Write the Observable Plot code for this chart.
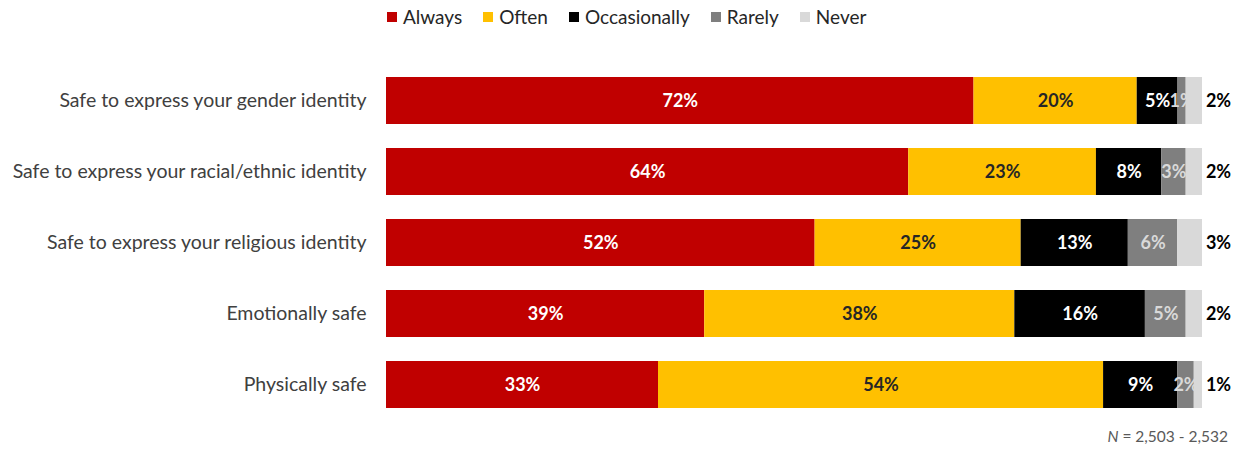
<!DOCTYPE html>
<html>
<head>
<meta charset="utf-8">
<script src="https://cdn.jsdelivr.net/npm/d3@7"></script>
<script src="https://cdn.jsdelivr.net/npm/@observablehq/plot@0.6"></script>
<style>
  html, body { margin: 0; padding: 0; background: #fff; }
  body { width: 1242px; height: 452px; position: relative; overflow: hidden; font-family: Lato, "Open Sans", sans-serif; }
  #legend { position: absolute; left: 387px; top: 5px; display: flex; align-items: center; font-size: 19px; color: #262626; white-space: nowrap; }
  .item { display: flex; align-items: center; margin-right: 21px; }
  .sw { width: 10px; height: 10px; margin-right: 6px; }
  #chart { position: absolute; left: 0; top: 36px; }
  #caption { position: absolute; right: 14px; top: 427px; font-size: 15.5px; color: #595959; }
</style>
</head>
<body>
<div id="legend"></div>
<div id="chart"></div>
<div id="caption"><i>N</i> = 2,503 - 2,532</div>
<script>
const categories = [
  "Safe to express your gender identity",
  "Safe to express your racial/ethnic identity",
  "Safe to express your religious identity",
  "Emotionally safe",
  "Physically safe"
];
const series = ["Always", "Often", "Occasionally", "Rarely", "Never"];
const always       = [72, 64, 52, 39, 33];
const often        = [20, 23, 25, 38, 54];
const occasionally = [5, 8, 13, 16, 9];
const rarely       = [1, 3, 6, 5, 2];
const never        = [2, 2, 3, 2, 1];
const colors = ["#C00000", "#FFC000", "#000000", "#7F7F7F", "#D9D9D9"];
const labelColors = ["#ffffff", "#262626", "#ffffff", "#d9d9d9", "#000000"];

const valuesBySeries = [always, often, occasionally, rarely, never];
const data = [];
categories.forEach((c, i) => {
  series.forEach((s, j) => {
    data.push({category: c, series: s, value: valuesBySeries[j][i]});
  });
});

// legend
const legend = document.getElementById("legend");
series.forEach((s, j) => {
  const it = document.createElement("div");
  it.className = "item";
  const sw = document.createElement("span");
  sw.className = "sw";
  sw.style.background = colors[j];
  const t = document.createElement("span");
  t.textContent = s;
  it.appendChild(sw); it.appendChild(t);
  legend.appendChild(it);
});

const labelColor = d => labelColors[series.indexOf(d.series)];

const chart = Plot.plot({
  width: 1242,
  height: 400,
  marginLeft: 386,
  marginRight: 40,
  marginTop: 16,
  marginBottom: 3.5,
  style: {fontFamily: "Lato, 'Open Sans', sans-serif", background: "#fff"},
  x: {domain: [0, 1], axis: null},
  y: {domain: categories, padding: 0.34, label: null},
  color: {domain: series, range: colors},
  marks: [
    Plot.barX(data, Plot.stackX({
      x: "value", y: "category", fill: "series", order: series, offset: "normalize"
    })),
    Plot.text(data, Plot.stackX({
      x: "value", y: "category", z: "series", order: series, offset: "normalize",
      text: d => d.series === "Never" ? "" : d.value + "%",
      fill: labelColor,
      fontWeight: "bold", fontSize: 18
    })),
    Plot.text(data, Plot.stackX2({
      x: "value", y: "category", z: "series", order: series, offset: "normalize",
      text: d => d.series === "Never" ? d.value + "%" : "",
      fill: "#000", dx: 16,
      fontWeight: "bold", fontSize: 18
    })),
    Plot.axisY({tickSize: 0, tickPadding: 20, fontSize: 19.5, label: null, color: "#404040"})
  ]
});
document.getElementById("chart").appendChild(chart);
</script>
</body>
</html>
